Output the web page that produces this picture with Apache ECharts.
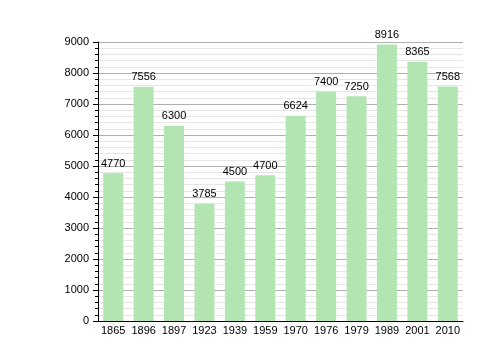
<!DOCTYPE html>
<html><head><meta charset="utf-8">
<script src="https://cdn.jsdelivr.net/npm/echarts@6/dist/echarts.min.js"></script>
<style>html,body{margin:0;padding:0;background:#fff}#c{width:500px;height:360px}</style>
</head><body><div id="c"></div>
<script>
const years = ['1865','1896','1897','1923','1939','1959','1970','1976','1979','1989','2001','2010'];
const population = [4770,7556,6300,3785,4500,4700,6624,7400,7250,8916,8365,7568];
const yTicks = [0,1000,2000,3000,4000,5000,6000,7000,8000,9000];

const chart = echarts.init(document.getElementById('c'), null, {renderer:'canvas'});
chart.setOption({
  animation:false,
  grid:{left:98, right:37, top:42, bottom:39, containLabel:false},
  xAxis:{
    type:'category', data:years, boundaryGap:true,
    axisLine:{lineStyle:{color:'#000', width:1}},
    axisTick:{show:false},
    axisLabel:{interval:0, color:'#000', fontFamily:'Liberation Sans, Arial, sans-serif', fontSize:11, margin:4}
  },
  yAxis:{
    type:'value', min:yTicks[0], max:yTicks[yTicks.length-1], interval:1000,
    axisLine:{show:true, lineStyle:{color:'#000', width:1}},
    axisTick:{show:true, inside:false, length:5, lineStyle:{color:'#000'}},
    minorTick:{show:true, splitNumber:5, length:3, lineStyle:{color:'#000'}},
    splitLine:{show:true, lineStyle:{color:'#b0b0b0', width:1}},
    minorSplitLine:{show:true, lineStyle:{color:'#e6e6e6', width:1}},
    axisLabel:{color:'#000', fontFamily:'Liberation Sans, Arial, sans-serif', fontSize:11, margin:9,
      formatter: v => String(v)}
  },
  series:[{
    type:'bar', data:population, barWidth:20,
    itemStyle:{color:'#b3e5b3'},
    label:{show:true, position:'top', distance:4, color:'#000',
      fontFamily:'Liberation Sans, Arial, sans-serif', fontSize:11}
  }]
});
</script></body></html>
